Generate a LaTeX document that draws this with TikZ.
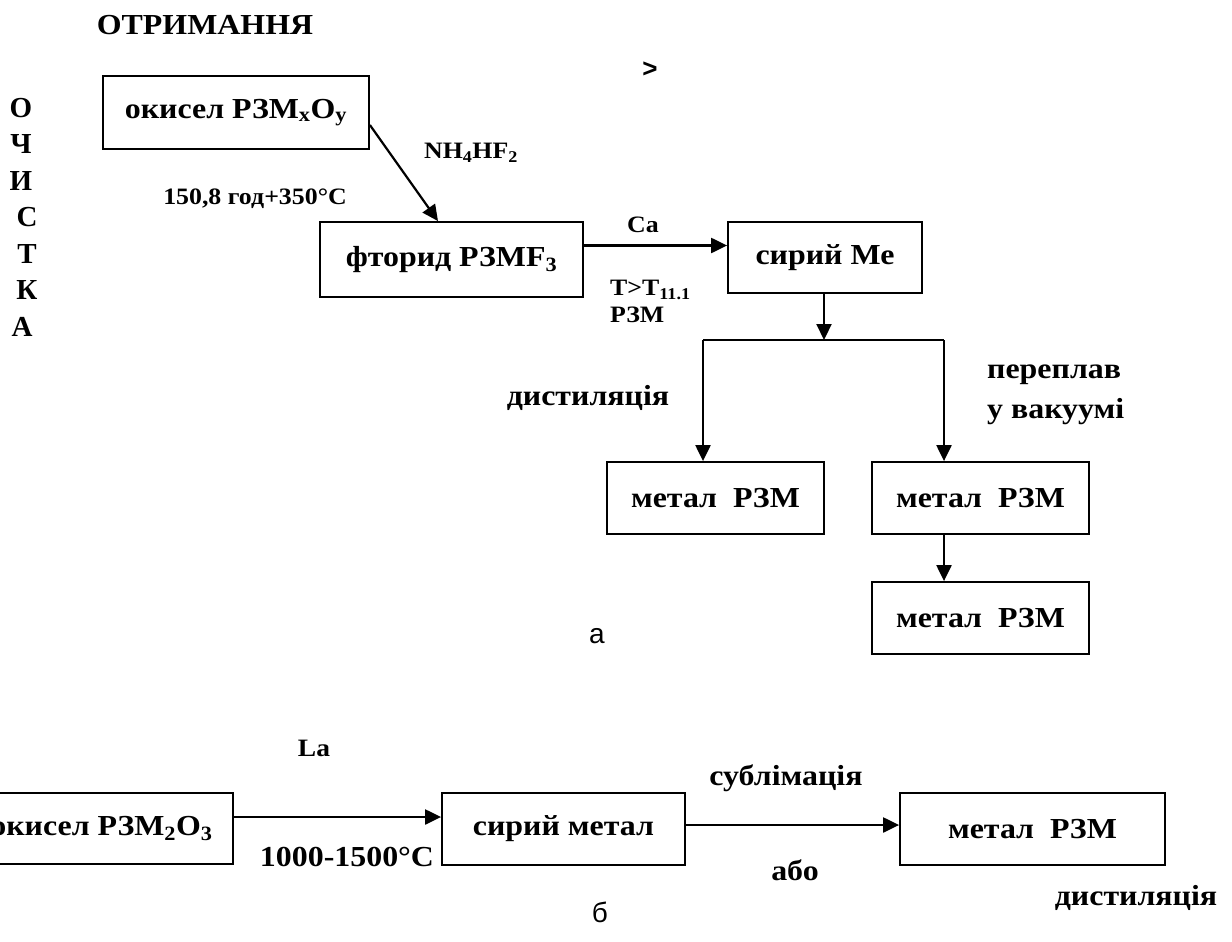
\documentclass[tikz,border=0pt]{standalone}
\usepackage{fontspec}
\setmainfont{Liberation Serif}
\newfontfamily\wf[FakeStretch=1.1]{Liberation Serif}
\newfontfamily\sansf{Liberation Sans}
\usetikzlibrary{arrows.meta,calc}
\begin{document}
\begin{tikzpicture}[x=1pt,y=-1pt,
  box/.style={draw,line width=1.8pt,inner sep=0pt,font=\wf\fontsize{29}{33}\selectfont\bfseries},
  lbl/.style={inner sep=0pt,font=\wf\fontsize{29}{33}\selectfont\bfseries},
  slbl/.style={inner sep=0pt,font=\wf\fontsize{23.5}{27}\selectfont\bfseries},
  vl/.style={inner sep=0pt,font=\fontsize{29}{33}\selectfont\bfseries},
  figcap/.style={inner sep=0pt,font=\fontsize{28}{32}\selectfont\sansf},
  arr/.style={line width=2.2pt,-{Triangle[length=16pt,width=15pt]}},
  ln/.style={line width=2.2pt}]
\clip (0,0) rectangle (1232,942);
% title and side letters
\node[lbl] (title) at (205,25) {ОТРИМАННЯ};
\node[inner sep=0pt,font=\fontsize{26}{30}\selectfont\sansf\bfseries] (gt) at (650,70) {>};
\node[vl] (v1) at (21,108) {О};
\node[vl] (v2) at (21,144.5) {Ч};
\node[vl] (v3) at (21,181) {И};
\node[vl] (v4) at (27,217.5) {С};
\node[vl] (v5) at (27,254) {Т};
\node[vl] (v6) at (27,290.5) {К};
\node[vl] (v7) at (22,327) {А};
% part a boxes
\node[box,minimum width=266pt,minimum height=73pt] (b1) at (236,112.5) {окисел РЗМ\textsubscript{x}O\textsubscript{y}};
\node[box,minimum width=263pt,minimum height=75pt] (b2) at (451.5,259.5) {фторид РЗМF\textsubscript{3}};
\node[box,minimum width=194pt,minimum height=71pt] (b3) at (825,257.5) {сирий Ме};
\node[box,minimum width=217pt,minimum height=72pt] (m1) at (715.5,498) {метал\ \ РЗМ};
\node[box,minimum width=217pt,minimum height=72pt] (m2) at (980.5,498) {метал\ \ РЗМ};
\node[box,minimum width=217pt,minimum height=72pt] (m3) at (980.5,618) {метал\ \ РЗМ};
% part a labels
\node[slbl] (nh) at (471,153) {NH\textsubscript{4}HF\textsubscript{2}};
\node[slbl] (t150) at (255,199) {150,8 год+350°C};
\node[slbl] (ca) at (643,225) {Ca};
\node[slbl,anchor=west] (tt) at (610,290) {T>T\textsubscript{11.1}};
\node[slbl,anchor=west] (rzm) at (610,315) {РЗМ};
\node[lbl] (dist1) at (588,398) {дистиляція};
\node[lbl,anchor=west] (per1) at (987,375) {переплав};
\node[lbl,anchor=west] (per2) at (987,412) {у вакуумі};
\node[figcap] (ca1) at (597,636) {а};
% part a connectors
\draw[arr] ([yshift=-12.5pt]b1.east) -- ([xshift=-13.5pt]b2.north);
\draw[arr] ([yshift=14pt]b2.east) -- ([yshift=14pt]b2.east -| b3.west);
\coordinate (j) at (824,340);
\coordinate (jl) at (703,340);
\coordinate (jr) at (944,340);
\draw[arr] (j |- b3.south) -- (j);
\draw[ln] (jl) -- (jr);
\draw[arr] (jl) -- (jl |- m1.north);
\draw[arr] (jr) -- (jr |- m2.north);
\draw[arr] (jr |- m2.south) -- (jr |- m3.north);
% part b
\node[box,minimum width=263pt,minimum height=71pt] (o2) at (101.5,828.5) {окисел РЗМ\textsubscript{2}О\textsubscript{3}};
\node[box,minimum width=243pt,minimum height=72pt] (sm) at (563.5,829) {сирий метал};
\node[box,minimum width=265pt,minimum height=72pt] (mb) at (1032.5,829) {метал\ \ РЗМ};
\node[slbl,font=\wf\fontsize{25}{29}\selectfont\bfseries] (la) at (314,748) {La};
\node[lbl] (t1000) at (347,857) {1000-1500°C};
\node[lbl] (sub) at (786,778) {сублімація};
\node[lbl] (abo) at (795,870) {або};
\node[lbl] (dist2) at (1136,898) {дистиляція};
\node[figcap] (cb) at (600,912) {б};
\draw[arr] ([yshift=11.5pt]o2.east) -- ([yshift=11.5pt]o2.east -| sm.west);
\draw[arr] ([yshift=4pt]sm.east) -- ([yshift=4pt]sm.east -| mb.west);
\end{tikzpicture}
\end{document}
